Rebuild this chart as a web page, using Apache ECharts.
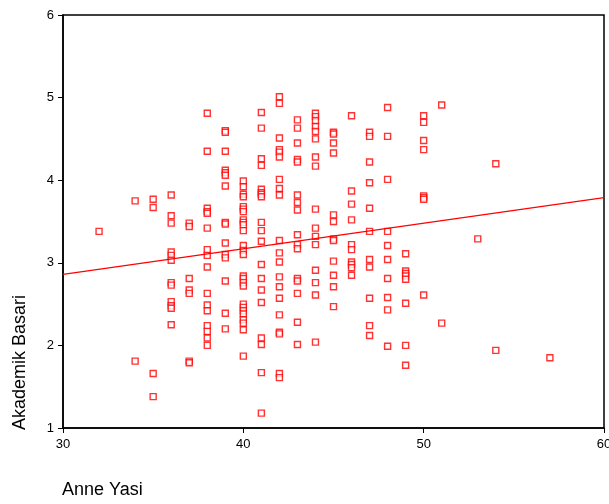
<!DOCTYPE html>
<html>
<head>
<meta charset="utf-8">
<script src="https://cdn.jsdelivr.net/npm/echarts@6/dist/echarts.min.js"></script>
<style>
  html, body { margin: 0; padding: 0; background: #fff; }
  #chart { width: 609px; height: 504px; }
</style>
</head>
<body>
<div id="chart"></div>
<script>
// anne yasi (x) -> akademik basari (y), her yas icin okunan noktalar
const ages = [32, 34, 35, 36, 37, 38, 39, 40, 41, 42, 43, 44, 45, 46, 47, 48, 49, 50, 51, 53, 54, 57];
const scoresByAge = [
    [3.38],
    [3.75, 1.81],
    [3.77, 3.67, 1.66, 1.38],
    [3.82, 3.57, 3.48, 3.13, 3.09, 3.03, 2.76, 2.73, 2.53, 2.48, 2.45, 2.25],
    [3.48, 3.44, 2.81, 2.67, 2.63, 1.81, 1.79],
    [4.81, 4.35, 3.66, 3.62, 3.60, 3.42, 3.16, 3.09, 2.95, 2.63, 2.49, 2.42, 2.24, 2.17, 2.09, 2.00],
    [4.60, 4.58, 4.35, 4.12, 4.09, 4.06, 3.93, 3.49, 3.47, 3.24, 3.10, 3.06, 2.78, 2.39, 2.20],
    [3.99, 3.92, 3.83, 3.80, 3.68, 3.65, 3.62, 3.52, 3.49, 3.46, 3.39, 3.21, 3.15, 3.10, 2.84, 2.81, 2.76, 2.72, 2.50, 2.46, 2.42, 2.38, 2.31, 2.27, 2.19, 1.87],
    [4.82, 4.63, 4.26, 4.18, 3.89, 3.85, 3.83, 3.80, 3.49, 3.39, 3.26, 2.98, 2.81, 2.67, 2.52, 2.09, 2.01, 1.67, 1.18],
    [5.01, 4.93, 4.51, 4.37, 4.34, 4.28, 4.01, 3.90, 3.82, 3.27, 3.12, 3.01, 2.83, 2.71, 2.57, 2.37, 2.16, 2.14, 1.66, 1.61],
    [4.73, 4.63, 4.45, 4.25, 4.22, 3.82, 3.73, 3.64, 3.34, 3.22, 3.17, 2.81, 2.78, 2.63, 2.28, 2.01],
    [4.81, 4.77, 4.72, 4.65, 4.59, 4.50, 4.28, 4.17, 3.65, 3.42, 3.32, 3.22, 2.91, 2.76, 2.61, 2.04],
    [4.58, 4.56, 4.45, 4.33, 3.58, 3.50, 3.29, 3.27, 3.02, 2.85, 2.71, 2.47],
    [4.78, 3.87, 3.71, 3.52, 3.22, 3.16, 3.01, 2.98, 2.94, 2.85],
    [4.58, 4.53, 4.22, 3.97, 3.66, 3.38, 3.04, 2.95, 2.57, 2.24, 2.12],
    [4.88, 4.53, 4.01, 3.38, 3.21, 3.04, 2.81, 2.58, 2.43, 1.99],
    [3.11, 2.90, 2.87, 2.84, 2.80, 2.51, 2.00, 1.76],
    [4.78, 4.70, 4.48, 4.37, 3.81, 3.79, 3.77, 2.61],
    [4.91, 2.27],
    [3.29],
    [4.20, 1.94],
    [1.85]
];

// regresyon dogrusu uc noktalari
const fitX = [30, 60];
const fitY = [2.86, 3.79];

const xTicks = [30, 40, 50, 60];
const yTicks = [1, 2, 3, 4, 5, 6];

const points = [];
ages.forEach((age, i) => {
    scoresByAge[i].forEach(s => points.push([age, s]));
});

const chart = echarts.init(document.getElementById('chart'), null, { renderer: 'canvas' });

const axisCommon = {
    type: 'value',
    axisLine: { show: true, onZero: false, lineStyle: { color: '#000', width: 1.5 } },
    axisTick: { show: true, length: 5, lineStyle: { color: '#000', width: 1 } },
    splitLine: { show: false },
    axisLabel: { color: '#000', fontFamily: 'Liberation Sans, Arial', fontSize: 13 }
};

chart.setOption({
    animation: false,
    backgroundColor: '#fff',
    grid: {
        left: 63, right: 5, top: 15, bottom: 76,
        containLabel: false, outerBoundsMode: 'none',
        show: true, borderColor: '#000', borderWidth: 1.5
    },
    xAxis: Object.assign({}, axisCommon, {
        min: xTicks[0], max: xTicks[xTicks.length - 1], interval: 10,
        axisLabel: Object.assign({}, axisCommon.axisLabel, { margin: 10 })
    }),
    yAxis: Object.assign({}, axisCommon, {
        min: yTicks[0], max: yTicks[yTicks.length - 1], interval: 1,
        axisLabel: Object.assign({}, axisCommon.axisLabel, { margin: 9 })
    }),
    graphic: [
        {
            type: 'text',
            left: 62, top: 481,
            style: { text: 'Anne Yasi', fill: '#000', font: '18px Liberation Sans, Arial' }
        },
        {
            type: 'text',
            x: 20, y: 430,
            rotation: Math.PI / 2,
            style: {
                text: 'Akademik Basari', fill: '#000', font: '18px Liberation Sans, Arial',
                align: 'left', verticalAlign: 'middle'
            }
        }
    ],
    series: [
        {
            type: 'scatter',
            symbol: 'rect',
            symbolSize: 6,
            itemStyle: { color: '#fff', borderColor: '#ff0000', borderWidth: 1.4 },
            data: points,
            z: 2
        },
        {
            type: 'line',
            data: fitX.map((x, i) => [x, fitY[i]]),
            symbol: 'none',
            lineStyle: { color: '#ff0000', width: 1.2 },
            z: 3
        }
    ]
});
</script>
</body>
</html>
